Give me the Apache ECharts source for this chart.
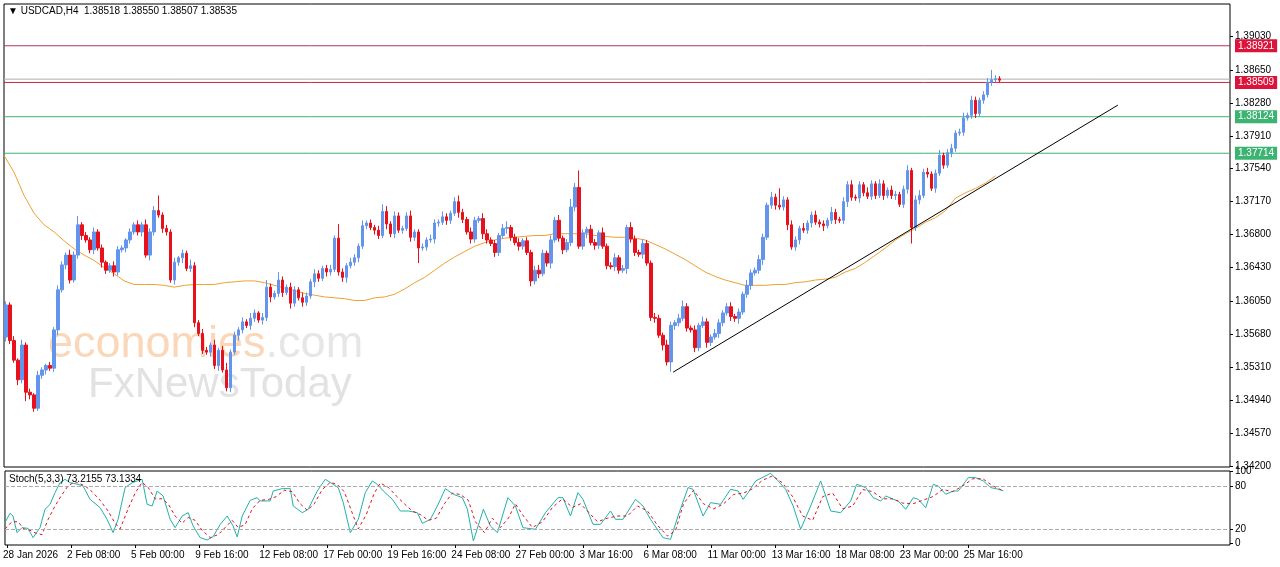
<!DOCTYPE html>
<html><head><meta charset="utf-8">
<script src="https://cdn.jsdelivr.net/npm/echarts@6/dist/echarts.min.js"></script>
<style>html,body{margin:0;padding:0;background:#fff}#c{width:1280px;height:567px}</style>
</head><body><div id="c"></div>
<script>
// USDCAD H4 closes (bar 0 = 28 Jan 2026 16:00, 4h per bar)
const firstOpen = 1.3565;
const closes = [
1.3601,1.3561,1.3539,1.3517,1.3556,1.3503,1.3500,1.3485,1.3522,1.3528,
1.3533,1.3530,1.3573,1.3618,1.3646,1.3657,1.3629,1.3657,1.3691,1.3679,
1.3674,1.3663,1.3683,1.3665,1.3649,1.3640,1.3645,1.3638,1.3663,1.3665,
1.3674,1.3683,1.3691,1.3683,1.3691,1.3657,1.3683,1.3707,1.3702,1.3687,
1.3683,1.3629,1.3649,1.3654,1.3659,1.3642,1.3645,1.3581,1.3569,1.3550,
1.3548,1.3556,1.3533,1.3550,1.3528,1.3508,1.3548,1.3567,1.3573,1.3582,
1.3578,1.3586,1.3592,1.3584,1.3587,1.3621,1.3610,1.3614,1.3629,1.3615,
1.3621,1.3603,1.3618,1.3609,1.3604,1.3611,1.3627,1.3636,1.3631,1.3642,
1.3638,1.3641,1.3676,1.3638,1.3632,1.3645,1.3649,1.3654,1.3667,1.3690,
1.3693,1.3688,1.3685,1.3679,1.3706,1.3692,1.3681,1.3701,1.3685,1.3687,
1.3701,1.3677,1.3683,1.3665,1.3666,1.3674,1.3675,1.3693,1.3694,1.3700,
1.3696,1.3704,1.3717,1.3705,1.3697,1.3683,1.3675,1.3696,1.3698,1.3681,
1.3674,1.3670,1.3660,1.3679,1.3687,1.3688,1.3677,1.3671,1.3667,1.3673,
1.3660,1.3628,1.3640,1.3636,1.3659,1.3648,1.3674,1.3696,1.3676,1.3663,
1.3671,1.3711,1.3733,1.3667,1.3682,1.3686,1.3671,1.3668,1.3682,1.3667,
1.3645,1.3644,1.3654,1.3640,1.3642,1.3688,1.3675,1.3660,1.3658,1.3670,
1.3648,1.3587,1.3586,1.3567,1.3556,1.3537,1.3578,1.3581,1.3586,1.3599,
1.3575,1.3573,1.3553,1.3578,1.3582,1.3559,1.3565,1.3569,1.3581,1.3592,
1.3599,1.3588,1.3586,1.3593,1.3613,1.3623,1.3637,1.3640,1.3652,1.3677,
1.3713,1.3722,1.3713,1.3711,1.3719,1.3691,1.3666,1.3674,1.3687,1.3685,
1.3693,1.3702,1.3694,1.3692,1.3690,1.3696,1.3705,1.3697,1.3696,1.3717,
1.3736,1.3722,1.3721,1.3736,1.3727,1.3723,1.3737,1.3724,1.3737,1.3724,
1.3730,1.3724,1.3725,1.3714,1.3731,1.3752,1.3688,1.3719,1.3724,1.3750,
1.3748,1.3732,1.3749,1.3769,1.3758,1.3772,1.3777,1.3794,1.3795,1.3811,
1.3814,1.3831,1.3816,1.3831,1.3837,1.3851,1.3854,1.3855,1.38535];
// wick lengths in pips (0.0001)
const upWick = [4,3,5,2,6,3,4,2,5,3, 2,4,3,5,4,3,6,4,10,3, 4,3,5,3,4,2,3,5,4,3, 2,4,3,5,3,6,4,5,17,3,
4,3,5,2,4,3,7,4,3,5, 4,3,6,3,5,8,3,4,3,5, 3,6,4,2,5,8,4,3,9,4, 3,5,4,3,6,4,3,5,4,3,
4,5,3,16,4,3,5,4,3,6, 3,4,3,5,8,6,3,5,4,3, 4,6,3,3,4,3,5,4,3,6, 4,3,5,7,4,3,5,4,3,6,
5,3,4,3,5,7,3,4,5,3, 4,3,5,6,4,3,5,4,6,3, 4,9,5,19,4,3,5,4,3,6, 3,4,5,3,4,3,6,4,3,5,
4,3,5,4,3,6,4,3,5,7, 4,3,5,3,6,4,3,5,4,3, 4,5,3,4,3,6,4,3,5,4, 3,6,4,19,4,3,5,4,3,6,
3,4,5,3,4,3,6,4,3,5, 4,5,3,4,3,6,4,3,5,4, 3,5,4,3,4,6,3,5,6,4, 5,3,4,6,3,4,5,3,4,6,
3,5,4,3,4,5,11,4,3];
const downWick = [5,4,3,6,4,10,5,4,3,4, 5,3,4,6,3,5,4,3,4,5, 3,4,5,3,6,4,3,5,4,3, 5,4,3,4,5,3,6,4,3,5,
4,3,5,4,6,3,4,5,3,4, 3,5,4,6,3,4,5,3,6,4, 3,5,4,3,5,4,6,3,4,5, 3,6,4,3,5,4,3,6,4,3,
5,4,3,4,5,6,3,4,5,3, 4,3,5,4,3,6,4,5,3,4, 3,5,4,17,3,4,3,5,4,3, 5,4,3,6,4,3,5,4,3,6,
4,3,5,4,3,6,4,3,5,4, 3,6,4,5,3,4,6,3,4,5, 3,4,5,3,4,6,3,5,4,3, 4,3,5,4,3,6,4,4,3,5,
3,4,5,3,6,4,11,5,4,3, 4,3,5,4,3,6,4,3,5,4, 3,5,4,6,3,4,5,3,4,6, 3,4,5,3,4,6,3,4,5,3,
4,5,3,4,6,3,4,5,3,4, 6,4,3,5,4,3,4,4,3,5, 3,4,5,3,4,5,18,4,5,3, 4,3,5,3,4,3,5,4,3,4,
3,4,5,3,4,3,4,3,3];
// moving average, sampled every 10 trading hours starting at hour -2
const maValues = [1.3769,1.3750,1.3724,1.3704,1.3691,1.3683,1.3673,1.3664,1.3657,1.3651,
1.3643,1.3636,1.3628,1.3624,1.3624,1.3624,1.3623,1.3621,1.3623,1.3624,
1.3624,1.3624,1.3626,1.3627,1.3628,1.3628,1.3626,1.3623,1.3620,1.3617,
1.3614,1.3612,1.3610,1.3609,1.3608,1.3606,1.3606,1.3609,1.3610,1.3613,
1.3619,1.3626,1.3632,1.3640,1.3648,1.3655,1.3661,1.3667,1.3671,1.3674,
1.3676,1.3677,1.3678,1.3679,1.3679,1.3681,1.3681,1.3681,1.3681,1.3679,
1.3678,1.3677,1.3677,1.3676,1.3674,1.3669,1.3664,1.3658,1.3652,1.3645,
1.3638,1.3633,1.3629,1.3626,1.3623,1.3623,1.3623,1.3624,1.3624,1.3626,
1.3627,1.3629,1.3630,1.3632,1.3638,1.3642,1.3649,1.3657,1.3665,1.3674,
1.3681,1.3687,1.3694,1.3699,1.3707,1.3721,1.3727,1.3732,1.3738,1.3746];
const maStartHour = -2, maStepHours = 10;
// trend line [hour, price]
const trendLine = [[666,1.35255],[1110,1.38254]];
// horizontal levels
const levels = [
  {v: 1.38921, bg: '#dc143c', line: '#b4306a'},
  {v: 1.38509, bg: '#dc143c', line: '#c8283c'},
  {v: 1.38124, bg: '#3cb371', line: '#3cb371'},
  {v: 1.37714, bg: '#3cb371', line: '#3cb371'}];
const bidLine = 1.38546;
// Stochastic (5,3,3): [hour, value]
const stochK = [[-2,28.8],[3,41.8],[6,38],[10,14.8],[15,21.8],[21,20.8],[26,7.8],[33,21.8],[38,47.4],[43,54.3],[48,70.6],[53,84.5],[58,89.2],[63,84.5],[71,82.2],[76,79.9],[83,61.3],[93,49.7],[100,33.4],[106,14.8],[111,33.4],[118,77.6],[125,84.5],[130,86.9],[135,89.2],[140,54.3],[145,52],[150,72.9],[156,66],[163,33.4],[168,21.8],[175,38],[181,42.7],[186,24],[193,7.8],[200,4.6],[206,9.2],[213,26.4],[220,38],[226,24],[230,8.8],[235,38],[243,59.9],[250,63.6],[253,59],[263,59],[266,72.9],[275,76.2],[283,76.2],[286,52],[295,42.7],[301,47.4],[310,72.9],[318,89.2],[326,82.2],[331,77.6],[336,56.7],[343,14.8],[351,33.4],[358,70.6],[365,86.9],[370,82.2],[376,72.9],[385,61.3],[393,45],[401,45],[410,42.7],[415,27.8],[423,33.4],[430,52],[438,76.2],[446,68.3],[455,63.6],[460,47.4],[466,3.2],[476,47.4],[483,24],[490,14.8],
[500.5,63.6],[508,52],[515.5,21.8],[528,19.5],[538,42.7],[550.5,63.6],[555.5,63.6],[563,38],[570.5,70.6],[575.5,61.3],[585.5,26.4],[593,26.4],[603,45],[608,33.4],[615.5,33.4],[628,61.3],[635.5,52],[643,33.4],[655.5,7.8],[663,5.5],[670.5,38],[680.5,77.6],[685.5,75.3],[695.5,38],[703,56.7],[713,54.3],[723,75.3],[730.5,72.9],[735.5,61.3],[740.5,70.6],[748,86.9],[763,97.6],[770.5,86.9],[778,75.3],[785.5,52],[793,19.5],[803,52],[813,86.9],[823,45],[833,42.7],[843,59],[849,82.2],[858,77.6],[865.5,63.6],[873,59],[878,66],[885.5,61.3],[890.5,59],[898,47.4],[905.5,63.6],[910.5,61.3],[918,49.7],[925.5,82.2],[930.5,79.9],[938,68.3],[945.5,72.9],[950.5,72.9],[960.5,91.5],[968,91.5],[975.5,86.9],[983,77.6],[990.5,75.3],[995.5,73.2]];
const stochD = [[-2,20],[5,30],[11,30],[17,20],[23,18],[29,14],[35,12],[41,33],[48,52],[55,68],[61,80],[68,86],[78,80],[85,72],[93,60],[101,45],[108,28],[113,20],[121,48],[128,70],[135,85],[141,78],[148,62],[155,62],[161,55],[168,38],[175,28],[181,36],[188,32],[195,18],[203,8],[211,12],[218,22],[225,32],[231,22],[238,26],[245,48],[253,60],[261,61],[269,65],[277,74],[285,72],[293,55],[300,46],[307,55],[315,75],[323,85],[330,82],[337,72],[345,42],[351,20],[359,40],[367,70],[373,84],[381,78],[389,66],[397,55],[405,45],[413,40],[421,32],[429,35],[437,55],[445,70],[453,68],[461,60],[468,30],[477,15],[485,35],
[493,22],[501,35],[508,55],[515,40],[525,22],[535,30],[545,50],[555,62],[565,50],[573,55],[580,45],[590,30],[600,35],[610,38],[620,38],[630,52],[640,45],[650,25],[660,10],[668,18],[676,55],[686,74],[696,55],[706,48],[716,55],[726,68],[736,70],[745,76],[755,88],[765,94],[775,84],[785,65],[795,38],[805,32],[815,65],[825,70],[835,48],[845,52],[855,75],[865,72],[875,62],[885,62],[895,56],[905,55],[915,60],[925,65],[935,75],[945,72],[955,80],[965,90],[975,90],[985,80],[995.5,73.1]];
const priceTicks = [1.34200,1.34570,1.34940,1.35310,1.35680,1.36050,1.36430,1.36800,1.37170,1.37540,1.37910,1.38280,1.38650,1.39030];
const timeTicks = ["28 Jan 2026","2 Feb 08:00","5 Feb 00:00","9 Feb 16:00","12 Feb 08:00","17 Feb 00:00","19 Feb 16:00","24 Feb 08:00","27 Feb 00:00","3 Mar 16:00","6 Mar 08:00","11 Mar 00:00","13 Mar 16:00","18 Mar 08:00","23 Mar 00:00","25 Mar 16:00"];
const stochLevels = [0,20,80,100];
const TOTAL_SLOTS = 306, HOURS_PER_BAR = 4, TICK_EVERY_BARS = 16;

const cats = []; for (let i = 0; i < TOTAL_SLOTS; i++) cats.push(i);
const candles = closes.map((c, i) => {
  const o = i === 0 ? firstOpen : closes[i - 1];
  return [o, c, Math.min(o, c) - downWick[i] / 10000, Math.max(o, c) + upWick[i] / 10000];
});
const ma = maValues.map((v, k) => [maStartHour + k * maStepHours, v]);
const hMin = -HOURS_PER_BAR / 2, hMax = TOTAL_SLOTS * HOURS_PER_BAR - HOURS_PER_BAR / 2;
const FONT = 'Liberation Sans';

const levelSeries = levels.map(L => ({
  type: 'line', xAxisIndex: 1, yAxisIndex: 0, data: [[hMin, L.v], [hMax, L.v]], showSymbol: false, z: 3,
  lineStyle: {color: L.line, width: 1}, silent: true,
  endLabel: {show: true, formatter: L.v.toFixed(5), color: '#fff', backgroundColor: L.bg, padding: [2, 3, 1, 3],
    fontSize: 10, fontFamily: FONT, distance: 5}
}));

const chart = echarts.init(document.getElementById('c'));
chart.setOption({
  animation: false,
  backgroundColor: '#fff',
  textStyle: {fontFamily: FONT},
  grid: [
    {left: 4, right: 50, top: 4, height: 463, show: true, borderColor: '#000', borderWidth: 1, backgroundColor: '#fff'},
    {left: 4, right: 50, top: 471, height: 74, show: true, borderColor: '#000', borderWidth: 1}
  ],
  xAxis: [
    {type: 'category', data: cats, gridIndex: 0, boundaryGap: true, axisLine: {show: false}, axisTick: {show: false}, axisLabel: {show: false}},
    {type: 'value', gridIndex: 0, min: hMin, max: hMax, show: false},
    {type: 'value', gridIndex: 1, min: hMin, max: hMax, splitLine: {show: false}, axisLine: {show: false, onZero: false},
      axisTick: {show: true, customValues: timeTicks.map((t, k) => k * TICK_EVERY_BARS * HOURS_PER_BAR), length: 3, lineStyle: {color: '#000'}},
      axisLabel: {customValues: timeTicks.map((t, k) => k * TICK_EVERY_BARS * HOURS_PER_BAR), formatter: v => timeTicks[Math.round(v / (TICK_EVERY_BARS * HOURS_PER_BAR))],
        align: 'left', fontSize: 10, color: '#000', margin: 5, padding: [0, 0, 0, -4]}}
  ],
  yAxis: [
    {type: 'value', gridIndex: 0, position: 'right', min: 1.3419, max: 1.3939, scale: true, splitLine: {show: false}, axisLine: {show: false, onZero: false},
      axisTick: {show: true, customValues: priceTicks, length: 3, lineStyle: {color: '#000'}},
      axisLabel: {customValues: priceTicks, formatter: v => v.toFixed(5), fontSize: 10, color: '#000', margin: 5}},
    {type: 'value', gridIndex: 1, position: 'right', min: -2.4, max: 100.8, splitLine: {show: false}, axisLine: {show: false, onZero: false},
      axisTick: {show: true, customValues: stochLevels, length: 3, lineStyle: {color: '#000'}},
      axisLabel: {customValues: stochLevels, formatter: v => String(v), fontSize: 10, color: '#000', margin: 5, hideOverlap: false}}
  ],
  graphic: [
    {type: 'text', left: 8, top: 6, style: {text: '\u25BC USDCAD,H4  1.38518 1.38550 1.38507 1.38535', font: '10px ' + FONT, fill: '#000'}, z: 100},
    {type: 'text', left: 9, top: 474, style: {text: 'Stoch(5,3,3) 73.2155 73.1334', font: '10px ' + FONT, fill: '#000'}, z: 100},
    {type: 'text', left: 48, top: 322, z: 1, style: {text: '{a|economies}{b|.com}', rich: {a: {fontSize: 45, fontFamily: FONT, fill: '#fad7b8'}, b: {fontSize: 45, fontFamily: FONT, fill: '#e6e6e6'}}}},
    {type: 'text', left: 88, top: 364, z: 1, style: {text: 'FxNewsToday', font: '42px ' + FONT, fill: '#e2e2e2'}}
  ],
  series: [
    {type: 'candlestick', xAxisIndex: 0, yAxisIndex: 0, data: candles, barWidth: 3, z: 5,
      itemStyle: {color: '#6495ed', color0: '#e8101a', borderColor: '#6495ed', borderColor0: '#e8101a', borderWidth: 1}},
    {type: 'line', xAxisIndex: 1, yAxisIndex: 0, data: ma, showSymbol: false, lineStyle: {color: '#f0a030', width: 1}, z: 4},
    {type: 'line', xAxisIndex: 1, yAxisIndex: 0, data: trendLine, showSymbol: false, lineStyle: {color: '#000', width: 1}, z: 6},
    {type: 'line', xAxisIndex: 1, yAxisIndex: 0, data: [[hMin, bidLine], [hMax, bidLine]], showSymbol: false, z: 2, silent: true, lineStyle: {color: '#b0b0b0', width: 1}},
    ...levelSeries,
    {type: 'line', xAxisIndex: 2, yAxisIndex: 1, data: stochK, showSymbol: false, lineStyle: {color: '#20b2aa', width: 1},
      markLine: {symbol: 'none', silent: true, label: {show: false}, lineStyle: {color: '#aaa', type: 'dashed', width: 1}, data: [{yAxis: 20}, {yAxis: 80}]}},
    {type: 'line', xAxisIndex: 2, yAxisIndex: 1, data: stochD, showSymbol: false, lineStyle: {color: '#e0101a', width: 1, type: [3, 3]}}
  ]
});
</script></body></html>
